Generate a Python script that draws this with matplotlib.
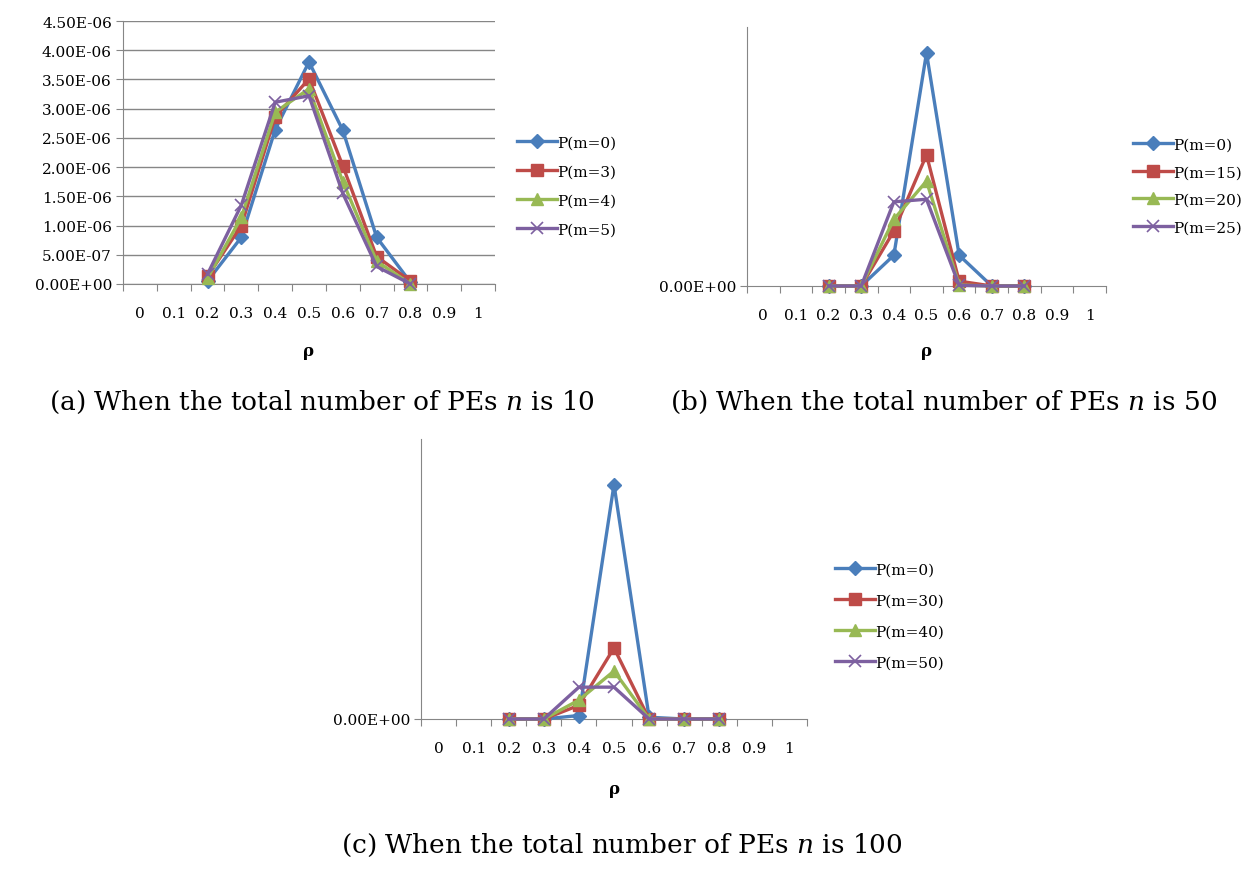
import matplotlib
matplotlib.use("Agg")
import matplotlib.pyplot as plt
from matplotlib.ticker import FixedLocator, FuncFormatter

plt.rcParams['font.family'] = ['DejaVu Serif']
plt.rcParams['mathtext.fontset'] = 'dejavuserif'

# category axis: rho = 0, 0.1, ..., 1
rho_labels = ['0', '0.1', '0.2', '0.3', '0.4', '0.5', '0.6', '0.7', '0.8', '0.9', '1']
rho = [0.2, 0.3, 0.4, 0.5, 0.6, 0.7, 0.8]

# (a) n = 10
names_a = ['P(m=0)', 'P(m=3)', 'P(m=4)', 'P(m=5)']
a_m0 = [0.05e-6, 0.80e-6, 2.64e-6, 3.80e-6, 2.63e-6, 0.80e-6, 0.03e-6]
a_m3 = [0.13e-6, 1.00e-6, 2.86e-6, 3.51e-6, 2.02e-6, 0.47e-6, 0.05e-6]
a_m4 = [0.10e-6, 1.14e-6, 2.94e-6, 3.34e-6, 1.75e-6, 0.39e-6, 0.00]
a_m5 = [0.17e-6, 1.35e-6, 3.11e-6, 3.22e-6, 1.55e-6, 0.30e-6, 0.00]

# (b) n = 50 (only the zero tick is labelled, values in relative units)
names_b = ['P(m=0)', 'P(m=15)', 'P(m=20)', 'P(m=25)']
b_m0 = [0.0, 0.0, 0.95, 7.20, 0.95, 0.0, 0.0]
b_m15 = [0.0, 0.0, 1.70, 4.05, 0.15, 0.0, 0.0]
b_m20 = [0.0, 0.0, 2.06, 3.24, 0.03, 0.0, 0.0]
b_m25 = [0.0, 0.0, 2.60, 2.68, 0.02, 0.0, 0.0]
b_top = 8.0

# (c) n = 100
names_c = ['P(m=0)', 'P(m=30)', 'P(m=40)', 'P(m=50)']
c_m0 = [0.0, 0.0, 0.10, 6.70, 0.05, 0.0, 0.0]
c_m30 = [0.0, 0.0, 0.39, 2.03, 0.0, 0.0, 0.0]
c_m40 = [0.0, 0.0, 0.54, 1.37, 0.0, 0.0, 0.0]
c_m50 = [0.0, 0.0, 0.91, 0.91, 0.0, 0.0, 0.0]
c_top = 8.0

captions = ['(a) When the total number of PEs $n$ is 10',
            '(b) When the total number of PEs $n$ is 50',
            '(c) When the total number of PEs $n$ is 100']

colors = ['#4A7EBB', '#BE4B48', '#98B954', '#7D60A0']
markers = ['D', 's', '^', 'x']
msizes = [7, 9, 8, 9]
grey = '#868686'

W, H = 1245, 870
fig = plt.figure(figsize=(W / 100, H / 100), dpi=100)


def box(x0, x1, ytop, ybot):
    return [x0 / W, 1 - ybot / H, (x1 - x0) / W, (ybot - ytop) / H]


def draw(ax, series, names, legend_xy, spacing):
    idx = [round(r * 10) for r in rho]
    for i, (vals, name) in enumerate(zip(series, names)):
        ax.plot(idx, vals, color=colors[i], lw=2.4, marker=markers[i], ms=msizes[i],
                mew=1.2 if markers[i] == 'x' else 1, label=name, clip_on=False, zorder=3 + i)
    ax.set_xlim(-0.5, 10.5)
    ax.xaxis.set_major_locator(FixedLocator([i - 0.5 for i in range(12)]))
    ax.xaxis.set_minor_locator(FixedLocator(list(range(11))))
    ax.xaxis.set_major_formatter(FuncFormatter(lambda v, p: ''))
    ax.xaxis.set_minor_formatter(FuncFormatter(lambda v, p: rho_labels[int(round(v))]))
    ax.tick_params(axis='x', which='major', direction='out', length=5, color=grey)
    ax.tick_params(axis='x', which='minor', length=0, pad=16, labelsize=11)
    ax.tick_params(axis='y', direction='out', length=5, color=grey, labelsize=11, pad=3)
    for s in ['top', 'right']:
        ax.spines[s].set_visible(False)
    for s in ['left', 'bottom']:
        ax.spines[s].set_color(grey)
    ax.set_facecolor('none')
    fig.legend(handles=ax.get_lines(), loc='center left', bbox_to_anchor=legend_xy,
               frameon=False, fontsize=11, numpoints=1, handlelength=2.6,
               handletextpad=0.05, labelspacing=spacing, borderaxespad=0)


# (a)
ax_a = fig.add_axes(box(123, 495, 22, 285))
draw(ax_a, [a_m0, a_m3, a_m4, a_m5], names_a, (511 / W, 1 - 187 / H), 0.98)
ax_a.set_ylim(0, 4.5e-6)
ax_a.set_yticks([i * 0.5e-6 for i in range(10)])
ax_a.yaxis.set_major_formatter(FuncFormatter(lambda v, p: f'{v:.2E}'))
ax_a.grid(axis='y', color=grey, lw=1)
ax_a.set_axisbelow(True)

# (b)
ax_b = fig.add_axes(box(747, 1106, 28, 287))
draw(ax_b, [b_m0, b_m15, b_m20, b_m25], names_b, (1127 / W, 1 - 187 / H), 0.88)
ax_b.set_ylim(0, b_top)
ax_b.set_yticks([0])
ax_b.yaxis.set_major_formatter(FuncFormatter(lambda v, p: f'{v:.2E}'))

# (c)
ax_c = fig.add_axes(box(421, 807, 440, 720))
draw(ax_c, [c_m0, c_m30, c_m40, c_m50], names_c, (829 / W, 1 - 617 / H), 1.1)
ax_c.set_ylim(0, c_top)
ax_c.set_yticks([0])
ax_c.yaxis.set_major_formatter(FuncFormatter(lambda v, p: f'{v:.2E}'))

# axis titles and captions
for x, y in [(309, 352), (927, 352), (614, 790)]:
    fig.text(x / W, 1 - y / H, 'ρ', ha='center', va='center', fontsize=12, fontweight='bold')
for (x, y), cap in zip([(322, 402), (944, 402), (622, 845)], captions):
    fig.text(x / W, 1 - y / H, cap, ha='center', va='center', fontsize=19)

fig.savefig('out.png', dpi=100)
